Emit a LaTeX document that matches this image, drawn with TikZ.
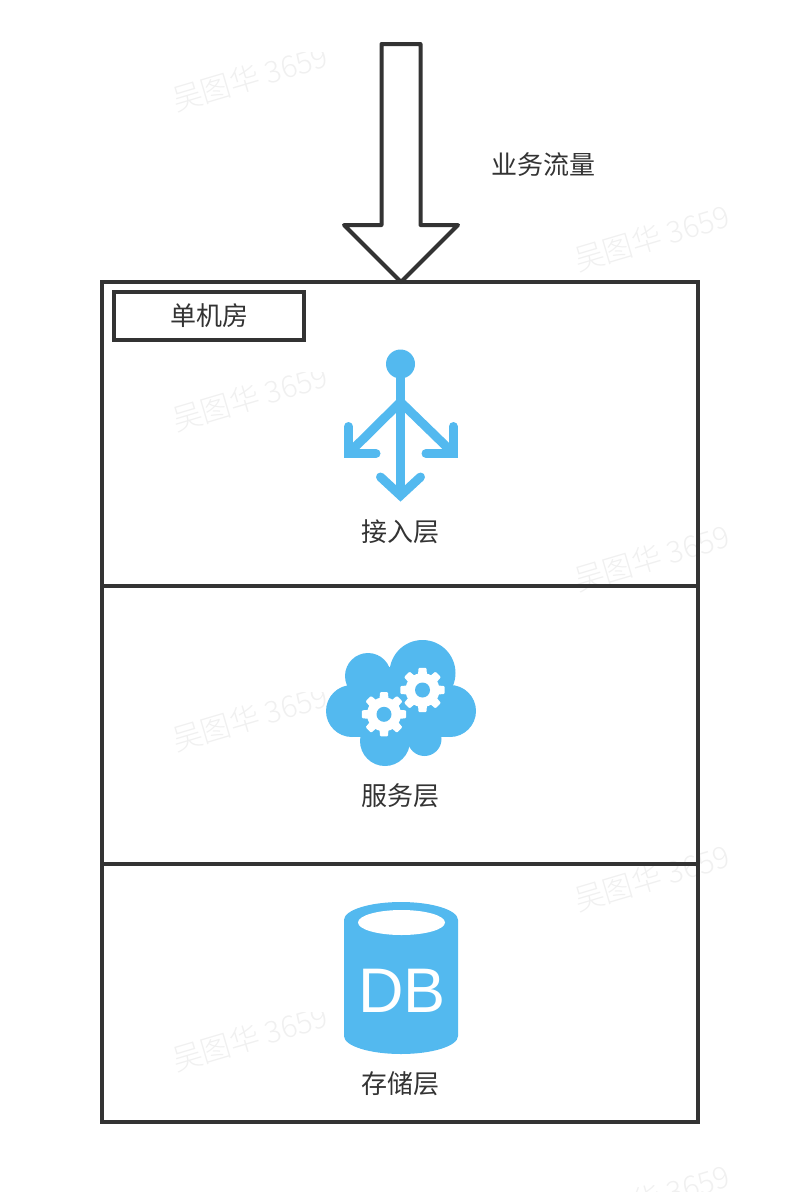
\documentclass[tikz,border=0pt]{standalone}
\usepackage{fontspec}
\setmainfont{Liberation Sans}
\newfontfamily\cjk{Noto Sans CJK SC}
\newfontfamily\cjklight{Noto Sans CJK SC Light}
\usetikzlibrary{calc}
\definecolor{linegray}{HTML}{333333}
\definecolor{iconblue}{HTML}{53B9EF}
\colorlet{markgray}{black!6}
\tikzset{
    layerbox/.style={draw=linegray, line width=3.5pt, minimum width=596pt, inner sep=0pt},
    caption/.style={text=linegray, font=\cjk\fontsize{26}{30}\selectfont, inner sep=0pt},
    watermark/.style={text=markgray, rotate=16.5, inner sep=0pt, font=\cjklight\fontsize{30}{36}\selectfont},
    iconline/.style={draw=iconblue, line width=9pt, line cap=round, miter limit=10}
}
\begin{document}
\begin{tikzpicture}[x=1pt,y=-1pt]
        \useasboundingbox (0,0) rectangle (810,1192);
        % watermarks, the left column is cut at the top of its tile
        \foreach \y/\n in {0/a,320/b,640/c,960/d}
        {
            \begin{scope}
                \clip (150,52+\y) rectangle (350,152+\y);
                \node[watermark] (mark\n) at (250,78+\y) {吴图华 3659};
            \end{scope}
            \node[watermark] (markr\n) at (652,238+\y) {吴图华 3659};
        }
        % traffic arrow
        \draw[draw=linegray, line width=4pt, line join=round, fill=white]
            (381.5,44) -- (420.5,44) -- (420.5,225) -- (458,225) -- (401,282)
            -- (344,225) -- (381.5,225) -- cycle;
        \node[caption] (traffic) at (543,165) {业务流量};
        % layers
        \node[layerbox, minimum height=304pt] (access) at (400,434) {};
        \node[layerbox, minimum height=278pt] (service) at (400,725) {};
        \node[layerbox, minimum height=258pt] (storage) at (400,993) {};
        \node[draw=linegray, line width=3.5pt, minimum width=190pt, minimum height=48pt,
            inner sep=0pt, fill=white, text=linegray, font=\cjk\fontsize{26}{30}\selectfont] (room) at (209,316) {单机房};
        % access icon
        \fill[iconblue] (400.5,364) circle (14.5);
        \draw[iconline] (400.5,364) -- (400.5,490);
        \draw[iconline] (380.5,477) -- (400.5,495.5) -- (420.5,477);
        \draw[iconline] (400.5,402) -- (350,452);
        \draw[iconline] (400.5,402) -- (452,452);
        \draw[iconline] (348.5,426.5) -- (348.5,453.5) -- (376,453.5);
        \draw[iconline] (453.2,426.5) -- (453.2,453.5) -- (426,453.5);
        \node[caption] (accesslabel) at (400,532) {接入层};
        % service icon
        \fill[iconblue] (422.5,673) circle (33);
        \fill[iconblue] (368,676) circle (23);
        \fill[iconblue] (352,711) circle (26);
        \fill[iconblue] (450,711) circle (26);
        \fill[iconblue] (385,741) circle (25);
        \fill[iconblue] (424.5,739) circle (17);
        \fill[iconblue] (352,690) rectangle (450,737);
        \fill[iconblue] (375,667) rectangle (420,700);
        \foreach \cx/\cy in {384/714.3,422.5/690}
        {
            \begin{scope}[shift={(\cx,\cy)}]
                \fill[white] (0,0) circle (17);
                \foreach \a in {0,45,...,315}
                {
                    \fill[white, rounded corners=1pt] ({\a-17}:15.5) -- ({\a-10}:22.5) -- ({\a+10}:22.5) -- ({\a+17}:15.5) -- cycle;
                }
                \fill[iconblue] (0,0) circle (7.5);
            \end{scope}
        }
        \node[caption] (servicelabel) at (400,796) {服务层};
        % storage icon
        \fill[iconblue] (344,920) -- (344,1036) arc[start angle=180, end angle=360, x radius=57, y radius=-18]
            -- (458,920) arc[start angle=0, end angle=180, x radius=57, y radius=-18] -- cycle;
        \fill[white] (401.5,922.5) ellipse[x radius=43.5, y radius=12.5];
        \node[text=white, inner sep=0pt, font=\fontsize{63}{63}\selectfont] (db) at (402,991) {DB};
        \node[caption] (storagelabel) at (400,1084) {存储层};
    \end{tikzpicture}
\end{document}
